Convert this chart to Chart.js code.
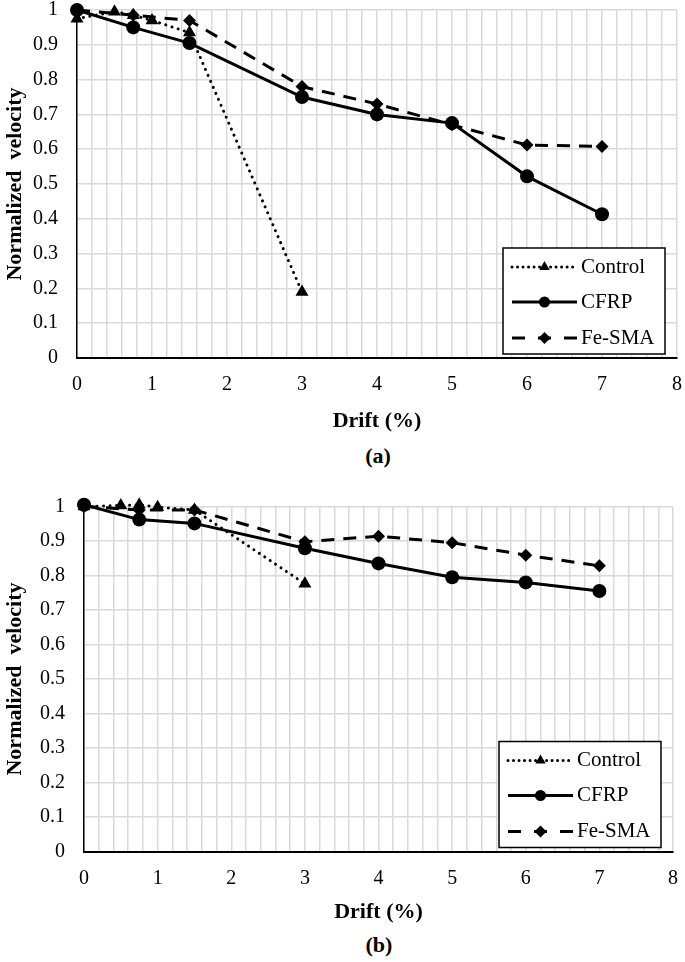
<!DOCTYPE html>
<html>
<head>
<meta charset="utf-8">
<script src="https://cdn.jsdelivr.net/npm/chart.js@4.4.0/dist/chart.umd.min.js"></script>
<style>
  body { margin:0; background:#fff; width:685px; height:962px; position:relative; overflow:hidden; }
  .box { position:absolute; left:0; width:685px; }
  .cap { position:absolute; width:60px; text-align:center; font:bold 22px "Liberation Serif", serif; color:#000; line-height:26px; }
</style>
</head>
<body>
<div class="box" style="top:0;height:437px"><canvas id="chart-a" width="685" height="437"></canvas></div>
<div class="cap" style="left:348px;top:443px">(a)</div>
<div class="box" style="top:470px;height:458px"><canvas id="chart-b" width="685" height="458"></canvas></div>
<div class="cap" style="left:349px;top:932px">(b)</div>
<script>
// ===== DADOS =====
const controlX = [0, 0.5, 0.75, 1, 1.5, 3];
const otherX = [0, 0.75, 1.5, 3, 4, 5, 6, 7];

// (a)
const controlA = [0.975, 0.995, 0.985, 0.97, 0.935, 0.19];
const cfrpA = [1.0, 0.95, 0.905, 0.75, 0.70, 0.675, 0.522, 0.413];
const fesmaA = [1.0, 0.985, 0.97, 0.78, 0.73, 0.67, 0.612, 0.608];

// (b)
const controlB = [1.0, 1.003, 1.005, 0.998, 0.99, 0.776];
const cfrpB = [1.005, 0.962, 0.951, 0.879, 0.835, 0.795, 0.78, 0.755];
const fesmaB = [1.0, 0.99, 0.99, 0.898, 0.914, 0.895, 0.859, 0.828];

const seriesNames = ["Control", "CFRP", "Fe-SMA"];
const xTicks = [0, 1, 2, 3, 4, 5, 6, 7, 8];
const yTicks = [0, 0.1, 0.2, 0.3, 0.4, 0.5, 0.6, 0.7, 0.8, 0.9, 1];

const serif = '"Liberation Serif", "Times New Roman", serif';
const pts = (xs, ys) => xs.map((x, i) => ({x, y: ys[i]}));

// ===== LEGENDA =====
function marcador(ctx, estilo, x, y, r){
  ctx.beginPath();
  if(estilo === "circle"){ ctx.arc(x, y, r, 0, Math.PI*2); }
  else if(estilo === "triangle"){
    for(let k=0;k<3;k++){
      let a = k*2*Math.PI/3;
      let px = x + Math.sin(a)*r, py = y - Math.cos(a)*r;
      k ? ctx.lineTo(px, py) : ctx.moveTo(px, py);
    }
    ctx.closePath();
  } else {
    ctx.moveTo(x, y-r); ctx.lineTo(x+r, y); ctx.lineTo(x, y+r); ctx.lineTo(x-r, y); ctx.closePath();
  }
  ctx.fillStyle = "#000";
  ctx.fill();
}

const legendaBox = {
  id: "legendaBox",
  afterDatasetsDraw(chart){
    const ctx = chart.ctx, a = chart.chartArea;
    const w = 162, h = 106;
    const x0 = a.right - 12 - w, y0 = a.bottom - 4 - h;
    const linhas = [19, 54, 90];
    ctx.save();
    ctx.fillStyle = "#fff";
    ctx.fillRect(x0, y0, w, h);
    ctx.strokeStyle = "#000";
    ctx.lineWidth = 1.5;
    ctx.strokeRect(x0, y0, w, h);
    chart.data.datasets.forEach((ds, i) => {
      const y = y0 + linhas[i];
      ctx.beginPath();
      ctx.setLineDash(ds.legendDash || []);
      ctx.lineCap = ds.borderCapStyle || "butt";
      ctx.lineWidth = ds.borderWidth;
      ctx.strokeStyle = "#000";
      ctx.moveTo(x0 + 9, y);
      ctx.lineTo(x0 + 74, y);
      ctx.stroke();
      ctx.setLineDash([]);
      marcador(ctx, ds.pointStyle, x0 + 41.5, y, ds.pointStyle === "circle" ? 5.5 : 6);
      ctx.fillStyle = "#000";
      ctx.font = "21px " + serif;
      ctx.textBaseline = "middle";
      ctx.textAlign = "left";
      ctx.fillText(ds.label, x0 + 78, y);
    });
    ctx.restore();
  }
};

// ===== GRÁFICOS =====
function datasets(ctrl, cfrp, fesma){
  return [
    { label: seriesNames[0], data: pts(controlX, ctrl), borderColor:"#000", backgroundColor:"#000",
      borderWidth: 3, borderDash:[0.01, 6.5], borderCapStyle:"round", legendDash:[0.01, 5.5],
      pointStyle:"triangle", pointRadius:7.5, pointBorderWidth:0, clip:false },
    { label: seriesNames[1], data: pts(otherX, cfrp), borderColor:"#000", backgroundColor:"#000",
      borderWidth: 3, pointStyle:"circle", pointRadius:7, pointBorderWidth:0, clip:false },
    { label: seriesNames[2], data: pts(otherX, fesma), borderColor:"#000", backgroundColor:"#000",
      borderWidth: 3, borderDash:[13, 9], legendDash:[13, 13],
      pointStyle:"rectRot", pointRadius:6.5, pointBorderWidth:0, clip:false }
  ];
}

function criarGrafico(id, dados, pad, larguraY, alturaX){
  return new Chart(document.getElementById(id), {
    type: "line",
    data: { datasets: dados },
    options: {
      responsive: false,
      animation: false,
      devicePixelRatio: 1,
      layout: { padding: pad },
      elements: { line: { tension: 0 } },
      plugins: { legend: { display:false }, tooltip: { enabled:false } },
      scales: {
        x: {
          type: "linear", min: 0, max: 8,
          grid: { color:"#d9d9d9", lineWidth:1.5, drawTicks:false },
          border: { color:"#000", width:2 },
          ticks: { stepSize:0.2, autoSkip:false, maxRotation:0, padding:17, color:"#000",
            font:{ family:serif, size:20, lineHeight:1 },
            callback: v => xTicks.some(t => Math.abs(t - v) < 1e-6) ? String(Math.round(v)) : "" },
          title: { display:true, text:"Drift (%)", color:"#000", padding:{top:0, bottom:2},
            font:{ family:serif, size:22, weight:"bold", lineHeight:1.2 } },
          afterFit: s => { s.height = alturaX; s.paddingLeft = 0; s.paddingRight = 0; }
        },
        y: {
          min: 0, max: 1,
          grid: { color:"#d9d9d9", lineWidth:1.5, drawTicks:false },
          border: { color:"#000", width:1.5 },
          ticks: { stepSize:0.1, autoSkip:false, padding:19, color:"#000",
            font:{ family:serif, size:20, lineHeight:1 },
            callback: v => { let t = yTicks.find(k => Math.abs(k - v) < 1e-6); return t === undefined ? "" : String(t); } },
          title: { display:true, text:"Normalized  velocity", color:"#000", padding:{top:2, bottom:0},
            font:{ family:serif, size:22, weight:"bold", lineHeight:1.2 } },
          afterFit: s => { s.width = larguraY; s.paddingTop = 0; s.paddingBottom = 0; }
        }
      }
    },
    plugins: [legendaBox]
  });
}

criarGrafico("chart-a", datasets(controlA, cfrpA, fesmaA), {top:10, right:8, left:0, bottom:0}, 77, 79);
criarGrafico("chart-b", datasets(controlB, cfrpB, fesmaB), {top:36.5, right:12, left:0, bottom:0}, 84, 76.5);
</script>
</body>
</html>
